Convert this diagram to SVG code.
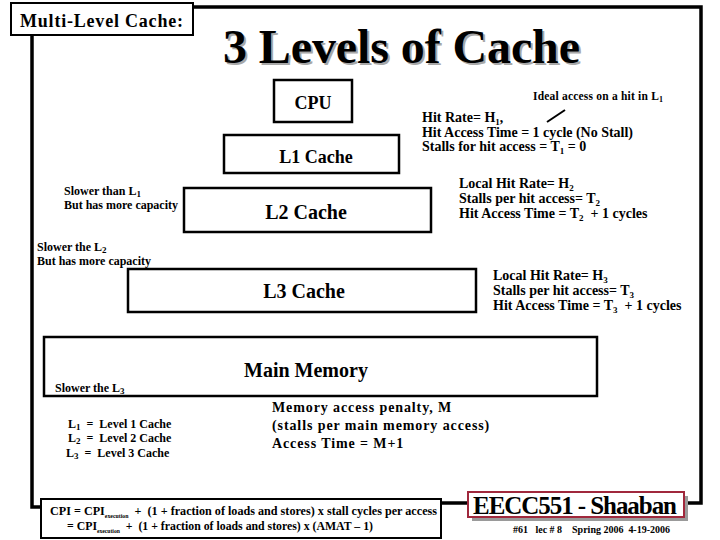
<svg xmlns="http://www.w3.org/2000/svg" width="720" height="540" viewBox="0 0 720 540">
<defs>
<style>
text { font-family: "Liberation Serif", "Times New Roman", serif; font-weight: bold; fill: #000; }
.box { fill: #fff; stroke: #000; stroke-width: 2.5; }
.frame { fill: none; stroke: #000; stroke-width: 3.5; }
.lbl { font-size: 20px; text-anchor: middle; }
.lbl18 { font-size: 18px; text-anchor: middle; }
.t14 { font-size: 14px; }
.t12 { font-size: 12px; }
.sub { font-size: 9px; }
.pre { white-space: pre; }
</style>
</defs>
<rect width="720" height="540" fill="#fff"/>

<g id="frame">
<path class="frame" d="M32,35 V507 H41"/>
<path class="frame" d="M193,7 H701 V503 H684"/>
<path class="frame" d="M441,503 H468"/>
</g>

<g id="header">
<rect x="11" y="3" width="182" height="32" fill="#fff" stroke="#000" stroke-width="2"/>
<text x="20" y="27" font-size="18" textLength="163">Multi-Level Cache:</text>
</g>

<g id="title">
<text x="225" y="65" font-size="48" style="fill:#a8a8a8" textLength="357">3 Levels of Cache</text>
<text x="223" y="63" font-size="48" textLength="357">3 Levels of Cache</text>
</g>

<g id="cpu">
<rect class="box" x="274" y="80" width="78" height="42"/>
<text class="lbl18" x="313" y="109">CPU</text>
</g>

<g id="l1-cache">
<rect class="box" x="224" y="135" width="175" height="38"/>
<text class="lbl18" x="316" y="163">L1 Cache</text>
</g>

<g id="l2-cache">
<rect class="box" x="184" y="188" width="247" height="44"/>
<text class="lbl" x="306" y="219">L2 Cache</text>
</g>

<g id="l3-cache">
<rect class="box" x="128" y="269" width="348" height="43"/>
<text class="lbl" x="304" y="298">L3 Cache</text>
</g>

<g id="main-memory">
<rect class="box" x="44" y="337" width="553" height="59"/>
<text class="lbl" x="306" y="377">Main Memory</text>
</g>

<g id="connectors">
<line x1="547" y1="122" x2="565" y2="110" stroke="#000" stroke-width="2"/>
</g>

<g id="l1-notes">
<text x="533" y="100" font-size="11.5" textLength="130">Ideal access on a hit in L<tspan font-size="8" dy="2">1</tspan></text>
<text class="t14" x="422" y="122">Hit Rate= H<tspan class="sub" dy="3">1</tspan><tspan dy="-3">,</tspan></text>
<text class="t14" x="422" y="137" textLength="211">Hit Access Time = 1 cycle (No Stall)</text>
<text class="t14" x="422" y="151">Stalls for hit access = T<tspan class="sub" dy="3">1</tspan><tspan dy="-3"> = 0</tspan></text>
</g>

<g id="l2-notes">
<text class="t12" x="64" y="195">Slower than L<tspan class="sub" dy="2">1</tspan></text>
<text class="t12" x="64" y="209" textLength="114">But has more capacity</text>
<text class="t14" x="459" y="188">Local Hit Rate= H<tspan class="sub" dy="3">2</tspan></text>
<text class="t14" x="459" y="203">Stalls per hit access= T<tspan class="sub" dy="3">2</tspan></text>
<text class="t14 pre" x="459" y="218">Hit Access Time = T<tspan class="sub" dy="3">2</tspan><tspan dy="-3">  + 1 cycles</tspan></text>
</g>

<g id="l3-notes">
<text class="t12" x="37" y="251">Slower the L<tspan class="sub" dy="2">2</tspan></text>
<text class="t12" x="37" y="265" textLength="114">But has more capacity</text>
<text class="t14" x="493" y="280">Local Hit Rate= H<tspan class="sub" dy="3">3</tspan></text>
<text class="t14" x="493" y="295">Stalls per hit access= T<tspan class="sub" dy="3">3</tspan></text>
<text class="t14 pre" x="493" y="310">Hit Access Time = T<tspan class="sub" dy="3">3</tspan><tspan dy="-3">  + 1 cycles</tspan></text>
</g>

<g id="memory-notes">
<text class="t12" x="55" y="392">Slower the L<tspan class="sub" dy="2">3</tspan></text>
<text class="t14" x="272" y="412" letter-spacing="0.9">Memory access penalty, M</text>
<text class="t14" x="272" y="430" letter-spacing="0.9">(stalls per main memory access)</text>
<text class="t14" x="272" y="448" letter-spacing="0.9">Access Time = M+1</text>
</g>

<g id="legend">
<text class="t12 pre" x="68" y="428">L<tspan class="sub" dy="2">1</tspan><tspan dy="-2">  =  Level 1 Cache</tspan></text>
<text class="t12 pre" x="68" y="442">L<tspan class="sub" dy="2">2</tspan><tspan dy="-2">  =  Level 2 Cache</tspan></text>
<text class="t12 pre" x="66" y="457">L<tspan class="sub" dy="2">3</tspan><tspan dy="-2">  =  Level 3 Cache</tspan></text>
</g>

<g id="cpi-formula">
<rect x="41" y="499" width="400" height="39" fill="#fff" stroke="#000" stroke-width="2"/>
<text class="pre" x="50" y="515" font-size="12.5" textLength="387" lengthAdjust="spacingAndGlyphs">CPI = CPI<tspan font-size="6" dy="3">execution</tspan><tspan dy="-3">  +  (1 + fraction of loads and stores) x stall cycles per access</tspan></text>
<text class="pre" x="67" y="530" font-size="12.5" textLength="306" lengthAdjust="spacingAndGlyphs">= CPI<tspan font-size="6" dy="3">execution</tspan><tspan dy="-3">  +  (1 + fraction of loads and stores) x (AMAT – 1)</tspan></text>
</g>

<g id="footer">
<rect x="472" y="496" width="216" height="25" fill="#9a9a9a"/>
<rect x="468" y="492" width="216" height="25" fill="#fff" stroke="#a0283c" stroke-width="2"/>
<text x="473" y="514" font-size="25" textLength="204">EECC551 - Shaaban</text>
<text class="pre" x="513" y="533" font-size="10" textLength="157">#61   lec # 8    Spring 2006  4-19-2006</text>
</g>
</svg>
